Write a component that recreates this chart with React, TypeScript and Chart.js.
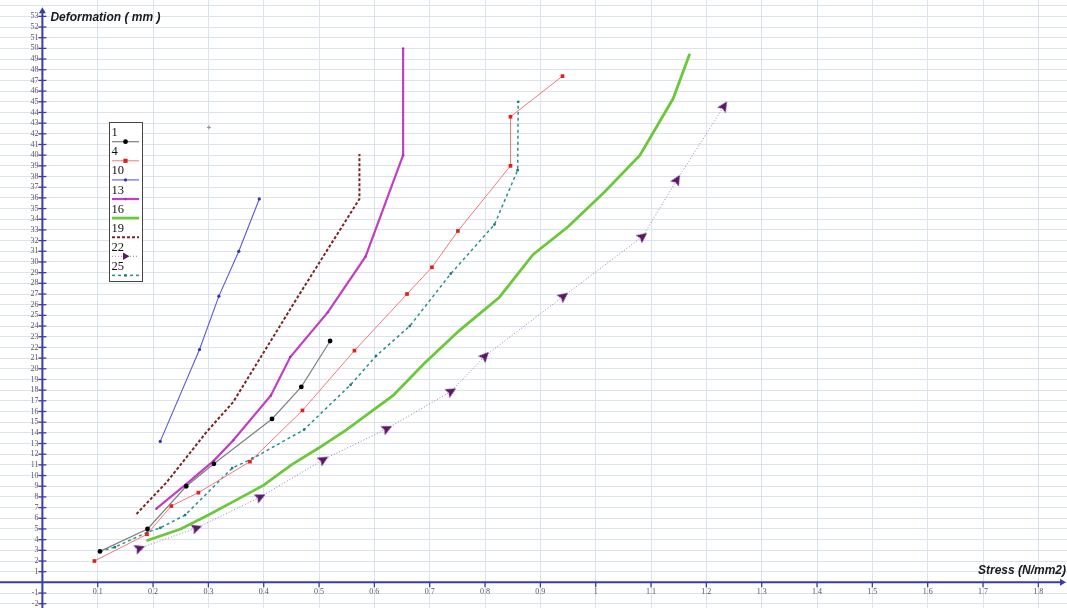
import React, { useEffect, useRef } from "react";
import { Chart, registerables } from "chart.js";

Chart.register(...registerables);

// ---------- data ----------
const seriesNames = ["1", "4", "10", "13", "16", "19", "22", "25"];

const series1: [number, number][] = [
  [0.104, 2.9], [0.19, 5.0], [0.26, 9.0], [0.31, 11.1], [0.415, 15.3], [0.468, 18.3], [0.52, 22.6],
];
const series4: [number, number][] = [
  [0.094, 2.0], [0.189, 4.5], [0.233, 7.15], [0.282, 8.4], [0.375, 11.3], [0.47, 16.1],
  [0.564, 21.7], [0.659, 27.0], [0.704, 29.5], [0.751, 32.9], [0.846, 39.0], [0.846, 43.6], [0.94, 47.4],
];
const series10: [number, number][] = [
  [0.213, 13.2], [0.284, 21.8], [0.319, 26.8], [0.355, 31.0], [0.392, 35.9],
];
const series13: [number, number][] = [
  [0.206, 6.9], [0.26, 9.2], [0.31, 11.4], [0.345, 13.3], [0.413, 17.5], [0.448, 21.1],
  [0.516, 25.3], [0.584, 30.5], [0.652, 40.0], [0.652, 50.0],
];
const series16: [number, number][] = [
  [0.188, 3.9], [0.25, 5.0], [0.3, 6.3], [0.35, 7.7], [0.4, 9.1], [0.45, 11.0], [0.5, 12.6],
  [0.55, 14.3], [0.634, 17.5], [0.69, 20.5], [0.754, 23.6], [0.826, 26.7], [0.887, 30.7],
  [0.95, 33.3], [1.015, 36.5], [1.08, 40.0], [1.14, 45.3], [1.17, 49.5],
];
const series19: [number, number][] = [
  [0.17, 6.4], [0.225, 9.4], [0.297, 14.1], [0.345, 16.9], [0.46, 26.6], [0.573, 35.9], [0.573, 40.1],
];
const series22: [number, number][] = [
  [0.176, 3.2], [0.279, 5.1], [0.394, 8.0], [0.508, 11.5], [0.623, 14.4], [0.739, 17.9],
  [0.8, 21.2], [0.942, 26.8], [1.085, 32.4], [1.147, 37.7], [1.232, 44.6],
];
const series25: [number, number][] = [
  [0.104, 2.9], [0.131, 3.3], [0.19, 4.7], [0.213, 5.1], [0.258, 6.3], [0.343, 10.7], [0.38, 11.6],
  [0.473, 14.3], [0.557, 18.5], [0.603, 21.2], [0.664, 24.0], [0.738, 28.9], [0.817, 33.5],
  [0.859, 38.6], [0.86, 45.0],
];
const strayPoint: [number, number][] = [[0.301, 42.6]];

const xTickLabels = [0.1, 0.2, 0.3, 0.4, 0.5, 0.6, 0.7, 0.8, 0.9, 1, 1.1, 1.2, 1.3, 1.4, 1.5, 1.6, 1.7, 1.8];
const yTickLabels = Array.from({ length: 56 }, (_, i) => i - 2); // -2 .. 53

const xTitle = "Stress (N/mm2)";
const yTitle = "Deformation ( mm )";

// ---------- styles ----------
const X_MIN = -0.0766;
const X_MAX = 1.8518;
const Y_MIN = -2.4;
const Y_MAX = 54.53;
const AXIS = "#3b3bb0";
const GRID = "#dbe4ee";

type Style = {
  line: string;
  width: number;
  dash: number[];
  point: string;
  pointColor: string;
  radius: number;
};

const styles: Style[] = [
  { line: "#808080", width: 1.2, dash: [], point: "circle", pointColor: "#000000", radius: 2.4 },
  { line: "#f07a7a", width: 1, dash: [], point: "rect", pointColor: "#e81c1c", radius: 2.6 },
  { line: "#5a5ad6", width: 1.1, dash: [], point: "circle", pointColor: "#3030b8", radius: 1.6 },
  { line: "#c23ec2", width: 2.2, dash: [], point: "circle", pointColor: "#b030b0", radius: 1.2 },
  { line: "#6cc83a", width: 2.8, dash: [], point: "none", pointColor: "#6cc83a", radius: 0 },
  { line: "#7a2626", width: 2, dash: [3, 2], point: "none", pointColor: "#7a2626", radius: 0 },
  { line: "#a478b0", width: 1, dash: [1, 2], point: "triangle", pointColor: "#5a1866", radius: 5 },
  { line: "#2a8f8f", width: 1.5, dash: [3, 3], point: "circle", pointColor: "#207a7a", radius: 1.4 },
];

const allSeries = [series1, series4, series10, series13, series16, series19, series22, series25];

function toXY(arr: [number, number][]) {
  return arr.map(([x, y]) => ({ x, y }));
}

function makeArrowHead(color: string): HTMLCanvasElement {
  const c = document.createElement("canvas");
  c.width = 12;
  c.height = 12;
  const g = c.getContext("2d")!;
  g.fillStyle = color;
  g.beginPath();
  g.moveTo(6, 0.5);
  g.lineTo(11, 11);
  g.lineTo(6, 9);
  g.lineTo(1, 11);
  g.closePath();
  g.fill();
  return c;
}

function drawMarker(ctx: CanvasRenderingContext2D, s: Style, x: number, y: number, rotDeg: number) {
  if (s.point === "none" || s.radius <= 0) return;
  ctx.save();
  ctx.fillStyle = s.pointColor;
  ctx.strokeStyle = s.pointColor;
  ctx.setLineDash([]);
  const r = s.radius;
  if (s.point === "circle") {
    ctx.beginPath();
    ctx.arc(x, y, r, 0, Math.PI * 2);
    ctx.fill();
  } else if (s.point === "rect") {
    ctx.fillRect(x - r * 0.8, y - r * 0.8, r * 1.6, r * 1.6);
  } else if (s.point === "triangle") {
    ctx.translate(x, y);
    ctx.rotate((rotDeg * Math.PI) / 180);
    ctx.beginPath();
    ctx.moveTo(0, -r * 0.8);
    ctx.lineTo(r * 0.75, r * 0.5);
    ctx.lineTo(-r * 0.75, r * 0.5);
    ctx.closePath();
    ctx.fill();
  }
  ctx.restore();
}

const axesPlugin = {
  id: "customAxes",
  beforeDatasetsDraw(chart: any) {
    const { ctx, scales, chartArea } = chart;
    const xs = scales.x;
    const ys = scales.y;
    const x0 = xs.getPixelForValue(0);
    const y0 = ys.getPixelForValue(0);
    ctx.save();
    ctx.strokeStyle = AXIS;
    ctx.fillStyle = AXIS;
    ctx.lineWidth = 2;
    ctx.setLineDash([]);
    // y axis
    const yTop = ys.getPixelForValue(53) - 4;
    ctx.beginPath();
    ctx.moveTo(x0, chartArea.bottom);
    ctx.lineTo(x0, yTop);
    ctx.stroke();
    ctx.beginPath();
    ctx.moveTo(x0, yTop - 5);
    ctx.lineTo(x0 - 3.5, yTop + 1);
    ctx.lineTo(x0 + 3.5, yTop + 1);
    ctx.closePath();
    ctx.fill();
    // x axis
    const xRight = chartArea.right - 6;
    ctx.beginPath();
    ctx.moveTo(chartArea.left, y0);
    ctx.lineTo(xRight, y0);
    ctx.stroke();
    ctx.beginPath();
    ctx.moveTo(xRight + 5, y0);
    ctx.lineTo(xRight - 1, y0 - 3.5);
    ctx.lineTo(xRight - 1, y0 + 3.5);
    ctx.closePath();
    ctx.fill();

    // y ticks
    ctx.lineWidth = 1.3;
    ctx.font = "8px 'Liberation Serif', serif";
    ctx.textAlign = "right";
    ctx.textBaseline = "middle";
    for (const v of yTickLabels) {
      if (v === 0) continue;
      const py = ys.getPixelForValue(v);
      ctx.strokeStyle = AXIS;
      ctx.beginPath();
      ctx.moveTo(x0 - 4, py);
      ctx.lineTo(x0 + 4, py);
      ctx.stroke();
      ctx.fillStyle = "#555566";
      ctx.fillText(String(v), x0 - 4, py);
    }
    // x ticks
    ctx.textAlign = "center";
    ctx.textBaseline = "top";
    for (const v of xTickLabels) {
      const px = xs.getPixelForValue(v);
      ctx.strokeStyle = AXIS;
      ctx.beginPath();
      ctx.moveTo(px, y0);
      ctx.lineTo(px, y0 + 5);
      ctx.stroke();
      ctx.fillStyle = "#555566";
      ctx.fillText(String(v), px, y0 + 6);
    }
    // titles
    ctx.fillStyle = "#1a1a1a";
    ctx.font = "italic bold 12px 'Liberation Sans', Arial, sans-serif";
    ctx.textAlign = "left";
    ctx.textBaseline = "middle";
    ctx.fillText(yTitle, x0 + 8, ys.getPixelForValue(53) + 1.5);
    ctx.textAlign = "right";
    ctx.textBaseline = "alphabetic";
    ctx.fillText(xTitle, chartArea.right - 1, y0 - 8);
    ctx.restore();
  },
  afterDatasetsDraw(chart: any) {
    const { ctx } = chart;
    ctx.save();
    // legend box
    const bx = 109.5, by = 122.5, bw = 33, bh = 159;
    ctx.fillStyle = "#ffffff";
    ctx.fillRect(bx, by, bw, bh);
    ctx.strokeStyle = "#444444";
    ctx.lineWidth = 1;
    ctx.setLineDash([]);
    ctx.strokeRect(bx, by, bw, bh);
    for (let i = 0; i < seriesNames.length; i++) {
      const s = styles[i];
      const ly = 141.7 + 19.1 * i;
      ctx.fillStyle = "#111111";
      ctx.font = "12.5px 'Liberation Serif', serif";
      ctx.textAlign = "left";
      ctx.textBaseline = "alphabetic";
      ctx.fillText(seriesNames[i], 111.5, ly - 5.5);
      ctx.strokeStyle = s.line;
      ctx.lineWidth = s.width;
      ctx.setLineDash(s.dash);
      ctx.beginPath();
      ctx.moveTo(112, ly);
      ctx.lineTo(139, ly);
      ctx.stroke();
      ctx.setLineDash([]);
      drawMarker(ctx, s, 125.5, ly, 90);
    }
    ctx.restore();
  },
};

export default function App() {
  const canvasRef = useRef<HTMLCanvasElement | null>(null);

  useEffect(() => {
    const canvas = canvasRef.current;
    if (!canvas) return;

    const pxPerX = 1067 / (X_MAX - X_MIN);
    const pxPerY = 608 / (Y_MAX - Y_MIN);

    const datasets: any[] = allSeries.map((arr, i) => {
      const s = styles[i];
      const ds: any = {
        label: seriesNames[i],
        data: toXY(arr),
        showLine: true,
        borderColor: s.line,
        borderWidth: s.width,
        borderDash: s.dash,
        tension: 0,
        fill: false,
        pointStyle: s.point === "none" ? false : s.point,
        pointRadius: s.radius,
        pointHoverRadius: s.radius,
        pointBackgroundColor: s.pointColor,
        pointBorderColor: s.pointColor,
        pointBorderWidth: 0,
      };
      if (s.point === "triangle") {
        ds.pointStyle = makeArrowHead(s.pointColor);
        // arrowheads oriented along the incoming segment
        ds.pointRotation = arr.map((_, k) => {
          const a = k > 0 ? arr[k - 1] : arr[k];
          const b = k > 0 ? arr[k] : arr[k + 1];
          const dx = (b[0] - a[0]) * pxPerX;
          const dy = -(b[1] - a[1]) * pxPerY;
          return (Math.atan2(dy, dx) * 180) / Math.PI + 90;
        });
      }
      return ds;
    });
    datasets.push({
      label: "stray",
      data: toXY(strayPoint),
      showLine: false,
      pointStyle: "cross",
      pointRadius: 2,
      pointBorderColor: "#a08888",
      pointBorderWidth: 1,
    });

    const chart = new Chart(canvas, {
      type: "scatter",
      data: { datasets },
      options: {
        animation: false,
        responsive: false,
        devicePixelRatio: 1,
        layout: { padding: 0, autoPadding: false },
        plugins: {
          legend: { display: false },
          tooltip: { enabled: false },
          title: { display: false },
        },
        scales: {
          x: {
            type: "linear",
            min: X_MIN,
            max: X_MAX,
            border: { display: false },
            ticks: { display: false },
            grid: { color: GRID, lineWidth: 1, drawTicks: false },
            afterBuildTicks: (scale: any) => {
              scale.ticks = xTickLabels.map((v) => ({ value: v }));
            },
            afterFit: (scale: any) => {
              scale.height = 0;
            },
          },
          y: {
            type: "linear",
            min: Y_MIN,
            max: Y_MAX,
            border: { display: false },
            ticks: { display: false },
            grid: { color: GRID, lineWidth: 1, drawTicks: false },
            afterBuildTicks: (scale: any) => {
              scale.ticks = yTickLabels.concat([54]).map((v) => ({ value: v }));
            },
            afterFit: (scale: any) => {
              scale.width = 0;
            },
          },
        },
      } as any,
      plugins: [axesPlugin],
    });

    return () => {
      chart.destroy();
    };
  }, []);

  return (
    <div
      style={{
        position: "absolute",
        left: 0,
        top: 0,
        width: 1067,
        height: 608,
        background: "#ffffff",
        overflow: "hidden",
      }}
    >
      <canvas ref={canvasRef} width={1067} height={608} style={{ display: "block" }} />
    </div>
  );
}
